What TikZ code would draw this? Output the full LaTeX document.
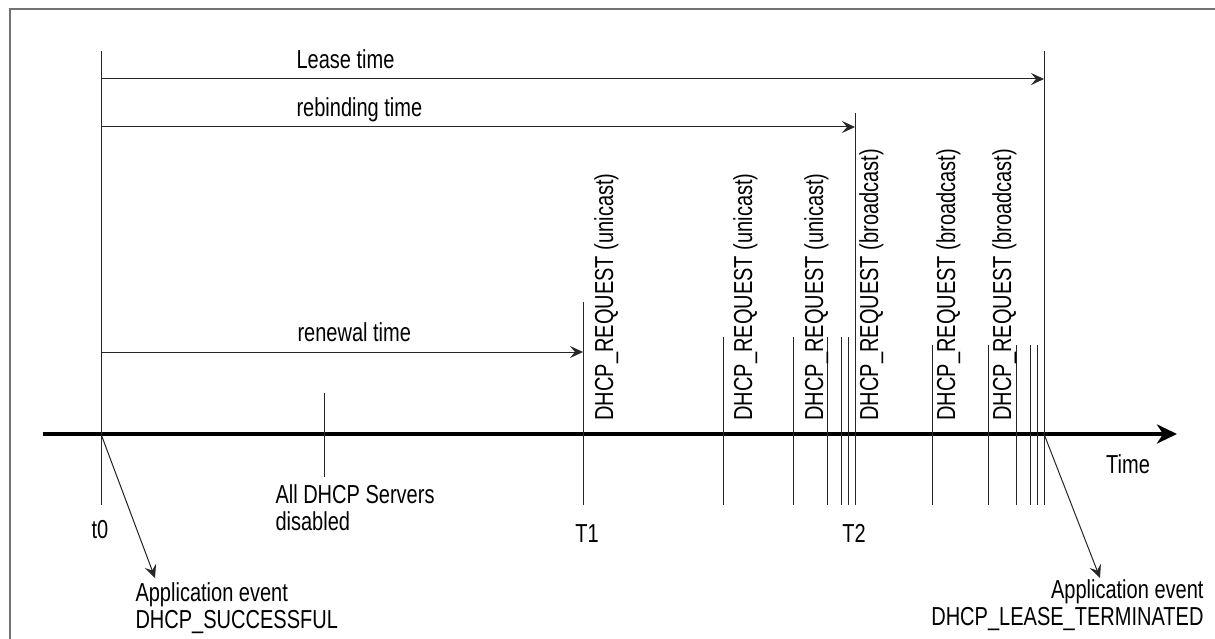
\documentclass[tikz,border=0pt]{standalone}
\usepackage{fontspec}
\setmainfont[FakeStretch=0.77]{Liberation Sans}
\usetikzlibrary{arrows.meta}

\tikzset{
  tick/.style={black!85, line width=1pt},
  label/.style={font=\fontsize{26}{28}\selectfont, inner sep=0pt},
  request/.style={label, rotate=90, anchor=base west}
}

\begin{document}
\begin{tikzpicture}[x=1pt, y=-1pt, >={Stealth[length=13pt,width=12pt,inset=5pt]}, line width=1pt]
\useasboundingbox (0,0) rectangle (1215,639);

% ramecek
\draw[black!55, line width=1.3pt] (10,639) -- (10,9) -- (1215,9);

% casova osa
\coordinate (axstart) at (43,434);
\coordinate (axend) at (1177,434);
\draw[-{Stealth[length=20pt,width=19pt,inset=6pt]}, line width=4pt] (axstart) -- (axend);
\node[label, anchor=base] (time) at (1128,473) {Time};

% znacky
\coordinate (t0) at (101,434);
\coordinate (lease) at (1044,79);
\coordinate (rebind) at (855,127);
\coordinate (renew) at (583,352);
\foreach \x/\y in {101/51, 583/302, 723/337, 793/337, 827/337, 841/337, 848/337,
                   855/113, 932/345, 988/345, 1016/345, 1030/345, 1037/345, 1044/51}
  \draw[tick] (\x,\y) -- (\x,505);
\draw[tick] (324,393) -- (324,477);

% intervaly
\draw[->, tick] (t0 |- lease) -- (lease);
\draw[->, tick] (t0 |- rebind) -- (rebind);
\draw[->, tick] (t0 |- renew) -- (renew);
\node[label, anchor=base west] (leasetxt) at (296,69) {Lease time};
\node[label, anchor=base west] (rebindtxt) at (296,117) {rebinding time};
\node[label, anchor=base west] (renewtxt) at (297,341) {renewal time};

% pozadavky
\node[request] (req1) at (613,421) {DHCP\_REQUEST (unicast)};
\node[request] (req2) at (752,421) {DHCP\_REQUEST (unicast)};
\node[request] (req3) at (823,421) {DHCP\_REQUEST (unicast)};
\node[request] (req4) at (878,421) {DHCP\_REQUEST (broadcast)};
\node[request] (req5) at (955,421) {DHCP\_REQUEST (broadcast)};
\node[request] (req6) at (1011,421) {DHCP\_REQUEST (broadcast)};

% popisky pod osou
\node[label, anchor=base] (t0txt) at (100,538) {t0};
\node[label, anchor=base] (t1txt) at (587,542) {T1};
\node[label, anchor=base] (t2txt) at (854,542) {T2};
\node[label, anchor=base west] (srv1) at (275,503) {All DHCP Servers};
\node[label, anchor=base west] (srv2) at (275,530) {disabled};

% udalosti
\coordinate (leaseend) at (1044,434);
\coordinate (okarrow) at (155,578);
\coordinate (endarrow) at (1100,578);
\draw[->, tick] (t0) -- (okarrow);
\draw[->, tick] (leaseend) -- (endarrow);
\node[label, anchor=base west] (ok1) at (135,601) {Application event};
\node[label, anchor=base west] (ok2) at (135,628) {DHCP\_SUCCESSFUL};
\node[label, anchor=base east] (end1) at (1204,598) {Application event};
\node[label, anchor=base east] (end2) at (1204,625) {DHCP\_LEASE\_TERMINATED};

\end{tikzpicture}
\end{document}
